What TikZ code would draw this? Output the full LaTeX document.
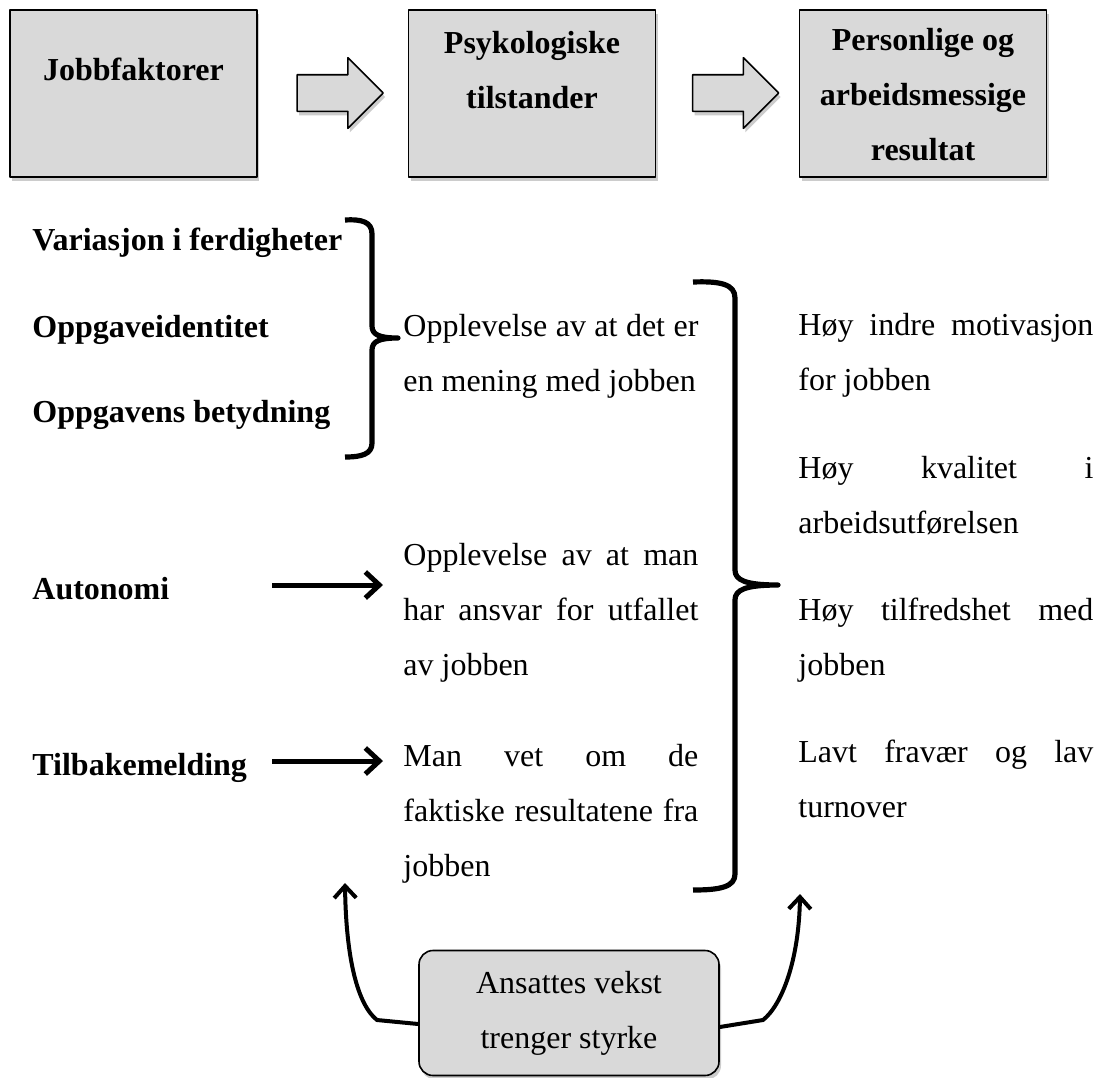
\documentclass[tikz,border=0pt]{standalone}
\usepackage{fontspec}
\setmainfont{Liberation Serif}
\usetikzlibrary{arrows.meta, shapes.arrows, shadows}

\newlength{\kolbredde}
\setlength{\kolbredde}{147.5pt}
\newcommand{\fullinje}[1]{\makebox[\kolbredde][s]{#1}}

\begin{document}
\begin{tikzpicture}[x=0.5pt, y=-0.5pt, line join=round,
	every node/.style={font=\fontsize{16}{27.5}\selectfont, inner sep=0pt},
	skygge/.style={drop shadow={shadow xshift=1pt, shadow yshift=-2pt, fill=black!40}},
	boks/.style={draw=black, line width=0.8pt, fill=black!15, minimum width=123.5pt, minimum height=83.5pt, skygge},
	overskrift/.style={font=\fontsize{16}{27.5}\selectfont\bfseries, align=center, anchor=base},
	blokkpil/.style={single arrow, draw=black, line width=0.8pt, fill=black!15, minimum height=43pt, inner ysep=8.75pt, single arrow head extend=8.5pt, skygge},
	faktor/.style={font=\fontsize{16}{27.5}\selectfont\bfseries, anchor=base west},
	tekst/.style={align=left, anchor=base west},
	vekstboks/.style={draw=black, line width=0.8pt, fill=black!15, rounded corners=7pt, minimum width=150pt, minimum height=62.5pt, align=center, skygge},
	klamme/.style={line width=2.6pt},
	pil/.style={line width=2.5pt, -{Straight Barb[length=7pt, width=13pt]}},
	buepil/.style={line width=2pt, -{Straight Barb[length=6pt, width=11pt]}}]

	\useasboundingbox (0,0) rectangle (1097,1077);

	% 1. Overskriftsbokser og blokkpiler (grunnlinje = siste linje)
	\node[boks] (jobb) at (133.5,93.5) {};
	\node[boks] (psyk) at (532,93.5) {};
	\node[boks] (resultat) at (923,93.5) {};
	\node[overskrift] (jobbtekst) at (133.5,80) {Jobbfaktorer};
	\node[overskrift] (psyktekst) at (532,108) {Psykologiske\\tilstander};
	\node[overskrift] (resultattekst) at (923,160) {Personlige og\\arbeidsmessige\\resultat};
	\node[blokkpil] (pil1) at (331,93) {};
	\node[blokkpil] (pil2) at (726.5,93) {};

	% 2. Jobbfaktorer
	\node[faktor] (variasjon) at (32,250) {Variasjon i ferdigheter};
	\node[faktor] (identitet) at (32,337) {Oppgaveidentitet};
	\node[faktor] (betydning) at (32,422) {Oppgavens betydning};
	\node[faktor] (autonomi) at (32,599) {Autonomi};
	\node[faktor] (tilbake) at (32,775) {Tilbakemelding};

	% 3. Psykologiske tilstander
	\node[tekst] (mening) at (403,391) {\fullinje{Opplevelse av at det er}\\en mening med jobben};
	\node[tekst] (ansvar) at (403,675) {\fullinje{Opplevelse av at man}\\\fullinje{har ansvar for utfallet}\\av jobben};
	\node[tekst] (kunnskap) at (403,876) {\fullinje{Man vet om de}\\\fullinje{faktiske resultatene fra}\\jobben};

	% 4. Resultater
	\node[tekst] (motivasjon) at (798,390) {\fullinje{Høy indre motivasjon}\\for jobben};
	\node[tekst] (kvalitet) at (798,533) {\fullinje{Høy kvalitet i}\\arbeidsutførelsen};
	\node[tekst] (tilfreds) at (798,675) {\fullinje{Høy tilfredshet med}\\jobben};
	\node[tekst] (fravaer) at (798,817) {\fullinje{Lavt fravær og lav}\\turnover};

	% 5. Klammer
	\draw[klamme] (345,220) .. controls (362,219) and (372,222) .. (372,234) -- (372,326)
		.. controls (372,335) and (380,338) .. (398,338)
		.. controls (380,338) and (372,341) .. (372,350) -- (372,443)
		.. controls (372,454) and (362,457) .. (345,457);
	\draw[klamme] (693,282) .. controls (720,281) and (735,284) .. (735,298) -- (735,570)
		.. controls (735,580) and (745,585) .. (778,585)
		.. controls (745,585) and (735,590) .. (735,600) -- (735,874)
		.. controls (735,887) and (720,890) .. (693,890);

	% 6. Piler
	\coordinate (autostart) at (272,585);
	\coordinate (tilbakestart) at (272,761);
	\draw[pil, shorten >=10pt] (autostart) -- (autostart -| ansvar.west);
	\draw[pil, shorten >=10pt] (tilbakestart) -- (tilbakestart -| kunnskap.west);

	% 7. Vekstbehov
	\node[vekstboks] (vekst) at (569,1013) {Ansattes vekst\\trenger styrke};
	\coordinate (venstretupp) at (345,883);
	\coordinate (hoyretupp) at (800,894);
	\draw[buepil] ([yshift=-5.5pt]vekst.west) -- (377,1020) .. controls (358,1005) and (346,960) .. (venstretupp);
	\draw[buepil] ([yshift=-7pt]vekst.east) -- (763,1020) .. controls (782,1005) and (799,960) .. (hoyretupp);
\end{tikzpicture}
\end{document}
